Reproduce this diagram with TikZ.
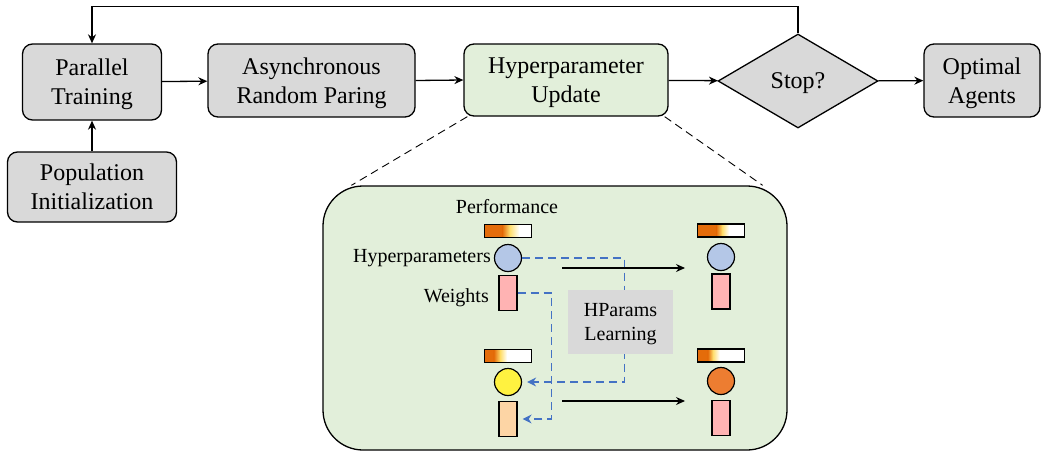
\documentclass[tikz,border=0pt]{standalone}
\usepackage{fontspec}
\setmainfont{Liberation Serif}
\usetikzlibrary{arrows.meta,shapes.geometric,calc}

\definecolor{boxgray}{RGB}{217,217,217}
\definecolor{boxgreen}{RGB}{226,239,218}
\definecolor{hpblue}{RGB}{180,199,231}
\definecolor{wpink}{RGB}{255,179,179}
\definecolor{hpyellow}{RGB}{255,242,64}
\definecolor{hporange}{RGB}{237,125,49}
\definecolor{wpeach}{RGB}{253,213,165}
\definecolor{perforange}{RGB}{228,108,10}
\definecolor{perfyellow}{RGB}{255,222,110}
\definecolor{dashblue}{RGB}{68,114,196}

% performance bar: name, x, y, end of orange, yellow, start of white
\newcommand{\perfbar}[6]{%
	\fill[perforange] (#2-23.5,#3-6.5) rectangle (#2-23.5+47*#4,#3+6.5);
	\shade[left color=perforange,right color=perfyellow] (#2-23.5+47*#4,#3-6.5) rectangle (#2-23.5+47*#5,#3+6.5);
	\shade[left color=perfyellow,right color=white] (#2-23.5+47*#5,#3-6.5) rectangle (#2-23.5+47*#6,#3+6.5);
	\fill[white] (#2-23.5+47*#6,#3-6.5) rectangle (#2+23.5,#3+6.5);
	\node[perf] (#1) at (#2,#3) {};
}

\begin{document}
\begin{tikzpicture}[x=1pt,y=-1pt,
		stepbox/.style={draw,line width=1.3pt,rounded corners=10pt,fill=boxgray,align=center,inner sep=0pt,text depth=0pt,font=\fontsize{24}{29}\selectfont},
		flow/.style={line width=1.3pt,-{Stealth[length=9pt,width=8pt]}},
		perf/.style={draw,line width=1.2pt,minimum width=47pt,minimum height=13pt,inner sep=0pt},
		hparam/.style={draw,circle,line width=1.2pt,minimum size=27pt,inner sep=0pt},
		weight/.style={draw,line width=1.2pt,minimum width=18pt,minimum height=35pt,inner sep=0pt},
		learn/.style={dashblue,line width=1.5pt,dash pattern=on 8pt off 5pt,-{Stealth[length=9pt,width=9pt]},shorten >=5pt},
		small/.style={font=\fontsize{20}{24}\selectfont,inner sep=0pt}]
		\useasboundingbox (0,0) rectangle (1044,453);

		% top row
		\node[stepbox,minimum width=139pt,minimum height=76pt] (par) at (92,82) {Parallel\\Training};
		\node[stepbox,minimum width=207pt,minimum height=73pt] (async) at (311.5,80.5) {Asynchronous\\Random Paring};
		\node[stepbox,fill=boxgreen,minimum width=204pt,minimum height=72pt] (hyper) at (566,80) {Hyperparameter\\Update};
		\node[draw,line width=1.3pt,diamond,fill=boxgray,minimum width=160pt,minimum height=94pt,inner sep=0pt,text depth=0pt,font=\fontsize{24}{29}\selectfont] (stop) at (798,81) {Stop?};
		\node[stepbox,minimum width=116pt,minimum height=73pt] (opt) at (982,80.5) {Optimal\\Agents};
		\node[stepbox,minimum width=169pt,minimum height=70pt] (pop) at (92,187) {Population\\Initialization};

		\draw[flow] (par) -- (async);
		\draw[flow] (async.east) -- (hyper.west);
		\draw[flow] (hyper) -- (stop);
		\draw[flow] (stop) -- (opt);
		\draw[flow] (pop) -- (par);
		\draw[flow] (stop.north) -- ++(0,-27) -| (par.north);

		% zoomed update step
		\node[draw,line width=1.3pt,rounded corners=40pt,fill=boxgreen,minimum width=464pt,minimum height=264pt] (inset) at (555,318) {};
		\draw[dashed,line width=0.9pt,dash pattern=on 8pt off 5pt] ($(hyper.south west)+(4,0)$) -- ($(inset.north west)+(29,0)$);
		\draw[dashed,line width=0.9pt,dash pattern=on 8pt off 5pt] ($(hyper.south east)+(-4,0)$) -- ($(inset.north east)+(-25,0)$);

		\node[small] at (507,207) {Performance};

		\perfbar{perfa}{508}{231}{0.38}{0.54}{0.74}
		\node[hparam,fill=hpblue] (hpa) at (508,258) {};
		\node[weight,fill=wpink] (wa) at (508,293) {};
		\node[small,anchor=east] at (491,258) {Hyperparameters};
		\node[small,anchor=east] at (489,298) {Weights};

		\perfbar{perfb}{508}{356}{0.2}{0.34}{0.48}
		\node[hparam,fill=hpyellow] (hpb) at (508,382) {};
		\node[weight,fill=wpeach] (wb) at (508,419) {};

		\perfbar{perfc}{721}{230.5}{0.4}{0.53}{0.67}
		\node[hparam,fill=hpblue] (hpc) at (721,257) {};
		\node[weight,fill=wpink] (wc) at (721,291.5) {};

		\perfbar{perfd}{721}{355.5}{0.22}{0.33}{0.47}
		\node[hparam,fill=hporange] (hpd) at (721,381) {};
		\node[weight,fill=wpink] (wd) at (721,418) {};

		% learning links
		\coordinate (hbend) at (624.5,382);
		\coordinate (wbend) at (551.5,419);
		\draw[learn] (hpa.east) -| (hbend) -- (hpb.east);
		\draw[learn] (wa.east) -| (wbend) -- (wb.east);
		\node[fill=boxgray,minimum width=105pt,minimum height=64pt,align=center,text depth=0pt,small] (hpl) at (620.5,322) {HParams\\Learning};

		\coordinate (ta) at (562,268);
		\coordinate (tb) at (685,268);
		\coordinate (ba) at (562,401);
		\coordinate (bb) at (685,401);
		\draw[flow,line width=1.1pt] (ta) -- (tb);
		\draw[flow,line width=1.1pt] (ba) -- (bb);
	\end{tikzpicture}
\end{document}
